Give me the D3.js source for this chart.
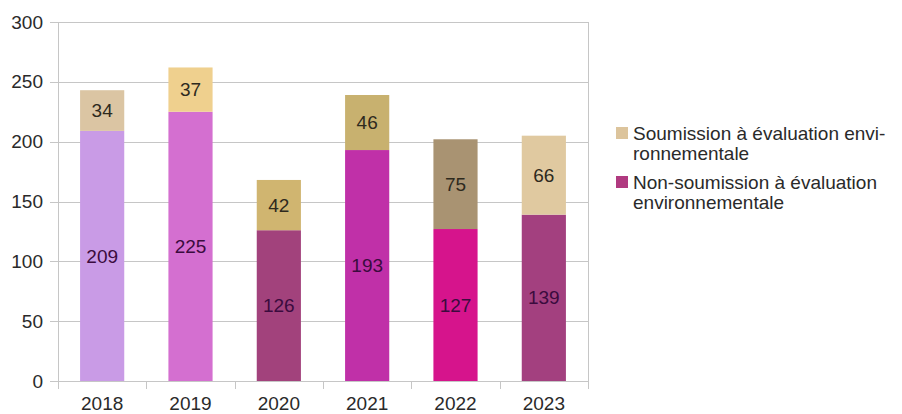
<!DOCTYPE html>
<html><head><meta charset="utf-8">
<script src="https://cdn.jsdelivr.net/npm/d3@7"></script>
<style>body{margin:0;background:#fff;}svg{display:block;font-family:"Liberation Sans",Arial,sans-serif;}</style>
</head><body><svg id="c" width="902" height="414"></svg>
<script>
const categories = ["2018","2019","2020","2021","2022","2023"];
const nonSoumission = [209,225,126,193,127,139];
const soumission = [34,37,42,46,75,66];
const yTicks = [0,50,100,150,200,250,300];
const seriesNames = ["Soumission à évaluation envi-|ronnementale","Non-soumission à évaluation|environnementale"];
const bottomColors = ["#c99be6","#d46fd0","#a2427c","#c030a8","#d6148c","#a3407f"];
const topColors = ["#dbc5a3","#efd08e","#d0b570","#c8b16f","#a99372","#e0c9a0"];
const legendColors = ["#dcc49c","#b03a80"];

const svg = d3.select("#c");
const m = {left:58, right:314, top:22, bottom:33};
const W = 902, H = 414;
const x = d3.scaleBand().domain(categories).range([m.left, W-m.right]).paddingInner(0.5).paddingOuter(0.25);
const y = d3.scaleLinear().domain([0,300]).range([H-m.bottom, m.top]);
const grid = "#c6c6c6";
const fs = 19;

svg.append("g").selectAll("line").data(yTicks).join("line")
  .attr("x1", m.left-8).attr("x2", W-m.right)
  .attr("y1", d=>Math.round(y(d))+0.5).attr("y2", d=>Math.round(y(d))+0.5)
  .attr("stroke", grid).attr("stroke-width",1);
svg.append("line").attr("x1",m.left+0.5).attr("x2",m.left+0.5).attr("y1",y(300)).attr("y2",y(0)+8).attr("stroke",grid);
svg.append("line").attr("x1",W-m.right+0.5).attr("x2",W-m.right+0.5).attr("y1",y(300)).attr("y2",y(0)+8).attr("stroke",grid);
const step = x.step();
const bounds = d3.range(1, categories.length).map(i => m.left + i*step);
svg.append("g").selectAll("line").data(bounds).join("line")
  .attr("x1", d=>Math.round(d)+0.5).attr("x2", d=>Math.round(d)+0.5)
  .attr("y1", y(0)).attr("y2", y(0)+8).attr("stroke", grid);

svg.append("g").selectAll("text").data(yTicks).join("text")
  .attr("x", 43).attr("y", d=>y(d)).attr("dy","0.35em")
  .attr("text-anchor","end").attr("font-size",fs).attr("fill","#2a2a2a")
  .text(d=>d);
svg.append("g").selectAll("text").data(categories).join("text")
  .attr("x", d=>x(d)+x.bandwidth()/2).attr("y", 410)
  .attr("text-anchor","middle").attr("font-size",fs).attr("fill","#2a2a2a")
  .text(d=>d);

const data = categories.map((c,i)=>({c, a:nonSoumission[i], b:soumission[i], i}));
svg.append("g").selectAll("rect").data(data).join("rect")
  .attr("x", d=>x(d.c)).attr("width", x.bandwidth())
  .attr("y", d=>y(d.a)).attr("height", d=>y(0)-y(d.a))
  .attr("fill", d=>bottomColors[d.i]);
svg.append("g").selectAll("rect").data(data).join("rect")
  .attr("x", d=>x(d.c)).attr("width", x.bandwidth())
  .attr("y", d=>y(d.a+d.b)).attr("height", d=>y(d.a)-y(d.a+d.b))
  .attr("fill", d=>topColors[d.i]);
svg.append("g").selectAll("text").data(data).join("text")
  .attr("x", d=>x(d.c)+x.bandwidth()/2).attr("y", d=>y(d.a/2)).attr("dy","0.35em")
  .attr("text-anchor","middle").attr("font-size",fs).attr("fill","#3b0b3e")
  .text(d=>d.a);
svg.append("g").selectAll("text").data(data).join("text")
  .attr("x", d=>x(d.c)+x.bandwidth()/2).attr("y", d=>y(d.a+d.b/2)).attr("dy","0.35em")
  .attr("text-anchor","middle").attr("font-size",fs).attr("fill","#2e2a1e")
  .text(d=>d.b);

const lg = svg.append("g");
seriesNames.forEach((n,i)=>{
  const y0 = 133 + i*49;
  lg.append("rect").attr("x",616).attr("y",y0-6).attr("width",12).attr("height",12).attr("fill",legendColors[i]);
  n.split("|").forEach((line,j)=>{
    lg.append("text").attr("x",633).attr("y",y0+j*20).attr("dy","0.35em")
      .attr("font-size",fs).attr("fill","#2a2a2a").text(line);
  });
});
</script></body></html>
